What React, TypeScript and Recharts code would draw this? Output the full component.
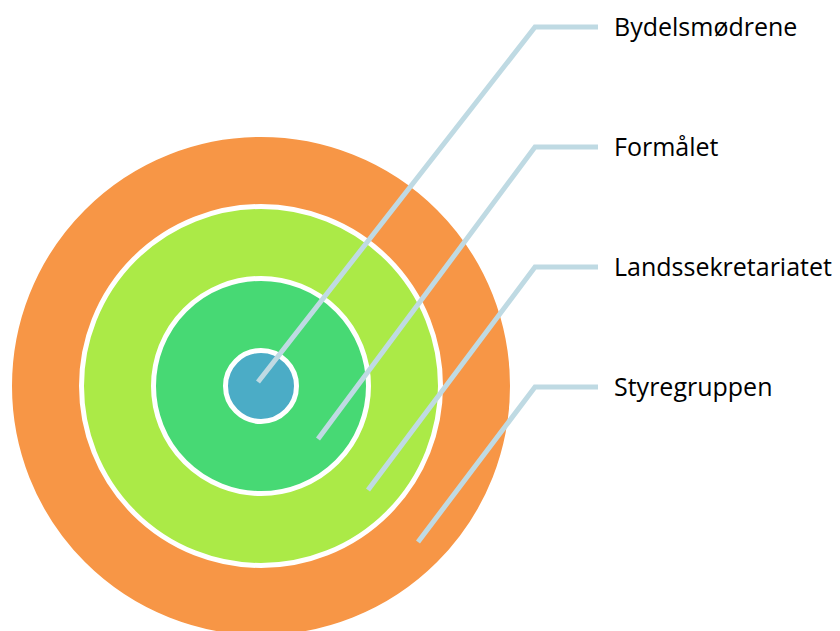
import React from "react";
import { Scatter, ScatterChart, XAxis, YAxis } from "recharts";

// rings, outermost first
const ringNames = ["Styregruppen", "Landssekretariatet", "Formålet", "Bydelsmødrene"];
const ringRadius = [254, 182, 110, 38];
const ringColors = ["#F79646", "#ABEA47", "#47D974", "#4BACC6"];
const centerX = 261;
const centerY = 386;

// leader lines, top label first
const labelNames = ["Bydelsmødrene", "Formålet", "Landssekretariatet", "Styregruppen"];
const leaderStartX = [258, 318, 368, 418];
const leaderStartY = [382, 439, 490, 542];
const labelY = [27, 147, 267, 387];
const elbowX = 535;
const lineEndX = 598;
const labelX = 614;

const W = 840;
const H = 631;

const ringData = ringNames.map((name, i) => ({
  name,
  x: centerX,
  y: centerY,
  r: ringRadius[i],
  color: ringColors[i],
}));

const leaders = labelNames.map((name, i) => ({
  name,
  points: [
    { x: leaderStartX[i], y: leaderStartY[i] },
    { x: elbowX, y: labelY[i] },
    { x: lineEndX, y: labelY[i] },
  ],
}));

const labelData = labelNames.map((name, i) => ({ name, x: labelX, y: labelY[i] }));

const RingShape = (props: any) => {
  const { cx, cy, payload } = props;
  return (
    <circle cx={cx} cy={cy} r={payload.r - 2.5} fill={payload.color} stroke="#ffffff" strokeWidth={5} />
  );
};

const LabelShape = (props: any) => {
  const { cx, cy, payload } = props;
  return (
    <text x={cx} y={cy + 9} fill="#000000" fontSize={25} fontFamily="'Open Sans', sans-serif">
      {payload.name}
    </text>
  );
};

export default function App() {
  return (
    <div style={{ position: "absolute", left: 0, top: 0, width: W, height: H, background: "#fff" }}>
      <ScatterChart width={W} height={H} margin={{ top: 0, right: 0, bottom: 0, left: 0 }}>
        <XAxis type="number" dataKey="x" domain={[0, W]} allowDataOverflow hide />
        <YAxis type="number" dataKey="y" domain={[0, H]} reversed allowDataOverflow hide />
        <Scatter data={ringData} shape={RingShape} isAnimationActive={false} />
        {leaders.map((l) => (
          <Scatter
            key={l.name}
            data={l.points}
            line={{ stroke: "#BFDAE3", strokeWidth: 5 }}
            lineType="joint"
            shape={() => null}
            isAnimationActive={false}
          />
        ))}
        <Scatter data={labelData} shape={LabelShape} isAnimationActive={false} />
      </ScatterChart>
    </div>
  );
}
